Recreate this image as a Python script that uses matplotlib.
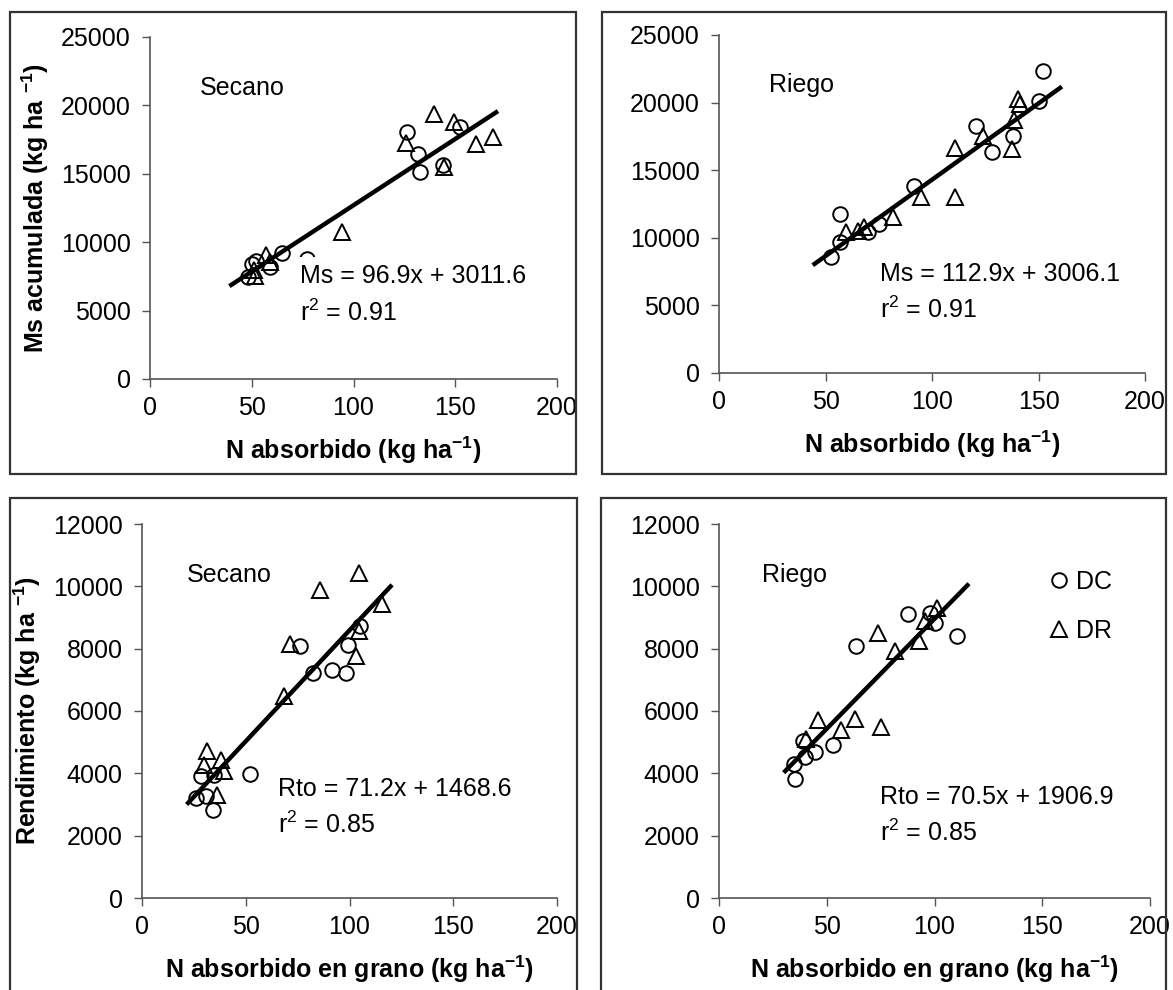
import matplotlib.pyplot as plt
import numpy as np
from matplotlib.patches import Rectangle

plt.rcParams['font.family'] = ['Liberation Sans', 'DejaVu Sans']
plt.rcParams['mathtext.fontset'] = 'custom'
plt.rcParams['mathtext.rm'] = 'Liberation Sans'
plt.rcParams['mathtext.bf'] = 'Liberation Sans:bold'

W, H = 1173, 990

# Ms acumulada vs N absorbido, secano
sec_ms_dc_x = [126.2, 152.5, 131.8, 132.8, 144.1, 65.0, 49.9, 52.2, 59.1, 48.4, 77.1]
sec_ms_dc_y = [18060, 18420, 16430, 15140, 15650, 9220, 8420, 8615, 8180, 7450, 8770]
sec_ms_dr_x = [139.4, 149.5, 125.6, 160.1, 168.4, 144.4, 94.5, 57.2, 59.1, 51.2, 51.8]
sec_ms_dr_y = [19340, 18800, 17280, 17200, 17690, 15530, 10730, 9030, 8540, 7990, 7500]

# Ms acumulada vs N absorbido, riego
rie_ms_dc_x = [152.3, 150.2, 120.5, 138.0, 128.0, 91.7, 75.3, 56.8, 56.8, 69.8, 52.4]
rie_ms_dc_y = [22340, 20090, 18240, 17530, 16380, 13830, 11020, 11770, 9720, 10400, 8590]
rie_ms_dr_x = [140.5, 141.5, 138.5, 137.5, 124.0, 110.9, 110.9, 94.7, 81.6, 68.1, 65.1, 59.4]
rie_ms_dr_y = [20300, 19900, 18740, 16540, 17530, 16610, 13030, 13030, 11520, 10820, 10470, 10400]

# Rendimiento vs N absorbido en grano, secano
sec_rto_dc_x = [105.1, 99.2, 76.1, 82.6, 91.4, 98.2, 52.0, 28.2, 34.5, 25.8, 30.8, 34.1]
sec_rto_dc_y = [8740, 8130, 8100, 7220, 7300, 7220, 3990, 3900, 3960, 3210, 3280, 2810]
sec_rto_dr_x = [104.5, 85.7, 115.6, 104.7, 103.2, 71.5, 68.6, 31.3, 38.2, 30.0, 39.4, 36.1]
sec_rto_dr_y = [10430, 9870, 9440, 8560, 7780, 8160, 6470, 4710, 4420, 4260, 4060, 3320]

# Rendimiento vs N absorbido en grano, riego
rie_rto_dc_x = [87.6, 97.7, 100.3, 110.6, 63.6, 52.7, 44.6, 39.8, 34.6, 35.4, 39.2]
rie_rto_dc_y = [9100, 9140, 8820, 8410, 8090, 4920, 4670, 4540, 4310, 3820, 5050]
rie_rto_dr_x = [101.1, 95.6, 92.7, 81.8, 73.8, 75.2, 63.1, 56.5, 45.8, 40.3]
rie_rto_dr_y = [9300, 8900, 8230, 7940, 8500, 5500, 5740, 5380, 5700, 5100]

# regression: slope, intercept, x range, r2
fits = [
    (96.9, 3011.6, 39, 171, 0.91),
    (112.9, 3006.1, 44, 161, 0.91),
    (71.2, 1468.6, 21.5, 120.5, 0.85),
    (70.5, 1906.9, 30, 116, 0.85),
]

fig = plt.figure(figsize=(W / 100, H / 100), dpi=100)

# panel frames (pixels: left, top, right, bottom)
for l, t, r, b in [(10, 12, 576, 474), (602, 12, 1166, 474),
                   (10, 498, 577, 1000), (601, 498, 1166, 1000)]:
    fig.add_artist(Rectangle((l / W, 1 - b / H), (r - l) / W, (b - t) / H,
                             transform=fig.transFigure, fill=False,
                             edgecolor='#333333', lw=1.6))


def make_axes(l, t, r, b):
    ax = fig.add_axes([l / W, 1 - b / H, (r - l) / W, (b - t) / H])
    ax.patch.set_alpha(0)
    for s in ['top', 'right']:
        ax.spines[s].set_visible(False)
    for s in ['left', 'bottom']:
        ax.spines[s].set_color('#555555')
        ax.spines[s].set_linewidth(1.2)
    ax.tick_params(direction='out', length=6, width=1, color='#555555',
                   labelsize=18)
    ax.tick_params(axis='x', pad=6)
    ax.tick_params(axis='y', pad=8)
    ax.set_xlim(0, 200)
    ax.set_xticks([0, 50, 100, 150, 200])
    return ax


def draw_panel(ax, dc_x, dc_y, dr_x, dr_y, fit, eq_name):
    slope, icpt, x0, x1, r2 = fit
    xs = np.array([x0, x1])
    ax.plot(xs, slope * xs + icpt, color='black', lw=3.2, zorder=2,
            solid_capstyle='butt')
    ax.plot(dc_x, dc_y, 'o', ms=10.5, mfc='none', mec='black', mew=1.4,
            zorder=3, label='DC', clip_on=False)
    ax.plot(dr_x, dr_y, '^', ms=11.5, mfc='none', mec='black', mew=1.4,
            zorder=3, label='DR', clip_on=False)
    return f'{eq_name} = {slope}x + {icpt}\nr$^2$ = {r2:.2f}'


eq_box = dict(facecolor='white', edgecolor='none', pad=5)
lab_kw = dict(fontsize=18, fontweight='bold')

# top left
ax1 = make_axes(150, 37, 557, 379)
ax1.set_ylim(0, 25000)
ax1.set_yticks(range(0, 25001, 5000))
txt = draw_panel(ax1, sec_ms_dc_x, sec_ms_dc_y, sec_ms_dr_x, sec_ms_dr_y, fits[0], 'Ms')
ax1.text(0.123, 0.851, 'Secano', transform=ax1.transAxes, fontsize=18, va='center')
ax1.text(0.369, 0.335, txt, transform=ax1.transAxes, fontsize=18, va='top',
         linespacing=1.5, bbox=eq_box, zorder=4)
ax1.set_xlabel(r'N absorbido (kg ha$^{\mathbf{-1}}$)', labelpad=11, **lab_kw)
ax1.set_ylabel(r'Ms acumulada (kg ha $^{\mathbf{-1}}$)', labelpad=7, **lab_kw)

# top right
ax2 = make_axes(719, 35, 1145, 373)
ax2.set_ylim(0, 25000)
ax2.set_yticks(range(0, 25001, 5000))
txt = draw_panel(ax2, rie_ms_dc_x, rie_ms_dc_y, rie_ms_dr_x, rie_ms_dr_y, fits[1], 'Ms')
ax2.text(0.117, 0.852, 'Riego', transform=ax2.transAxes, fontsize=18, va='center')
ax2.text(0.378, 0.328, txt, transform=ax2.transAxes, fontsize=18, va='top',
         linespacing=1.5, bbox=eq_box, zorder=4)
ax2.set_xlabel(r'N absorbido (kg ha$^{\mathbf{-1}}$)', labelpad=11, **lab_kw)

# bottom left
ax3 = make_axes(142, 524, 557, 898)
ax3.set_ylim(0, 12000)
ax3.set_yticks(range(0, 12001, 2000))
txt = draw_panel(ax3, sec_rto_dc_x, sec_rto_dc_y, sec_rto_dr_x, sec_rto_dr_y, fits[2], 'Rto')
ax3.text(0.108, 0.864, 'Secano', transform=ax3.transAxes, fontsize=18, va='center')
ax3.text(0.328, 0.323, txt, transform=ax3.transAxes, fontsize=18, va='top',
         linespacing=1.5, bbox=eq_box, zorder=4)
ax3.set_xlabel(r'N absorbido en grano (kg ha$^{\mathbf{-1}}$)', labelpad=11, **lab_kw)
ax3.set_ylabel(r'Rendimiento (kg ha $^{\mathbf{-1}}$)', labelpad=7, **lab_kw)

# bottom right
ax4 = make_axes(719, 524, 1150, 898)
ax4.set_ylim(0, 12000)
ax4.set_yticks(range(0, 12001, 2000))
txt = draw_panel(ax4, rie_rto_dc_x, rie_rto_dc_y, rie_rto_dr_x, rie_rto_dr_y, fits[3], 'Rto')
ax4.text(0.10, 0.864, 'Riego', transform=ax4.transAxes, fontsize=18, va='center')
ax4.text(0.374, 0.302, txt, transform=ax4.transAxes, fontsize=18, va='top',
         linespacing=1.5, bbox=eq_box, zorder=4)
ax4.set_xlabel(r'N absorbido en grano (kg ha$^{\mathbf{-1}}$)', labelpad=11, **lab_kw)
ax4.legend(loc='upper left', bbox_to_anchor=(0.736, 0.91), frameon=False,
           fontsize=18, handlelength=0.8, handletextpad=0.3, labelspacing=1.0,
           borderpad=0)

fig.savefig('out.png', dpi=100)
